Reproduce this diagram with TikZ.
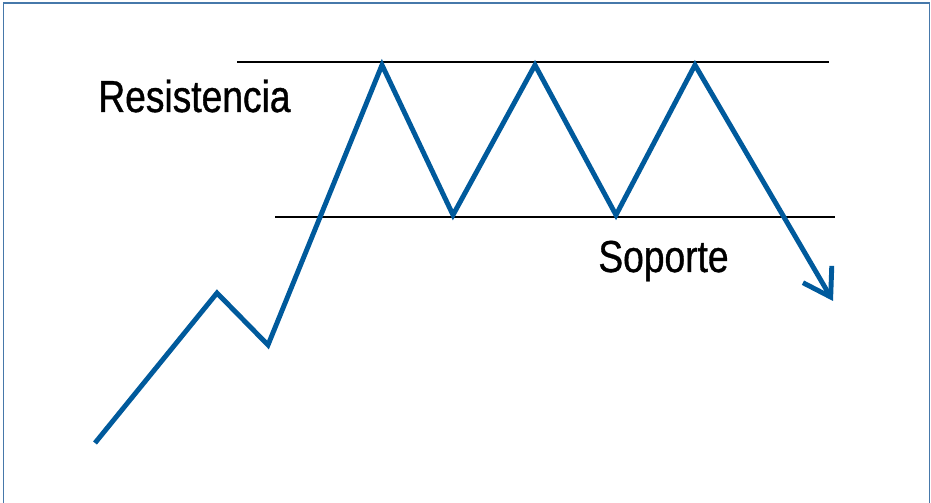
\documentclass[tikz,border=0pt]{standalone}
\usepackage{fontspec}
\setmainfont[FakeStretch=0.83, FakeBold=0.8]{Liberation Sans}
\usetikzlibrary{arrows.meta}

\definecolor{chartblue}{RGB}{0,90,156}
\definecolor{frameblue}{RGB}{70,120,170}

\begin{document}
\begin{tikzpicture}[
  x=0.02cm, y=-0.02cm,
  font=\fontsize{25.5}{30}\selectfont,
  level/.style={draw=black, line width=1.3pt},
  price/.style={draw=chartblue, line width=2.8pt, line join=miter},
  label/.style={inner sep=0pt, anchor=base west},
  frame/.style={draw=frameblue, line width=0.85pt}
]
\useasboundingbox (0,0) rectangle (931,503);

% open frame
\coordinate (fbl) at (3.5,503);
\coordinate (ftl) at (3.5,3);
\coordinate (ftr) at (929.5,3);
\coordinate (fbr) at (929.5,503);
\draw[frame] (fbl) -- (ftl) -- (ftr) -- (fbr);

% resistance and support levels
\coordinate (r1) at (237,62);
\coordinate (r2) at (829,62);
\coordinate (s1) at (275,217);
\coordinate (s2) at (835,217);
\draw[level] (r1) -- (r2);
\draw[level] (s1) -- (s2);

\node[label] (res) at (98,112) {Resistencia};
\node[label] (sop) at (598,272) {Soporte};

% price path
\coordinate (p0) at (95,443);
\coordinate (p1) at (217,293);
\coordinate (p2) at (268,345);
\coordinate (p3) at (382,65);
\coordinate (p4) at (453,215);
\coordinate (p5) at (535,65);
\coordinate (p6) at (616,215);
\coordinate (p7) at (695,65);
\coordinate (p8) at (833,301);
\draw[price, -{Straight Barb[length=15pt, width=19pt]}]
  (p0) -- (p1) -- (p2) -- (p3) -- (p4) -- (p5) -- (p6) -- (p7) -- (p8);

\end{tikzpicture}
\end{document}
